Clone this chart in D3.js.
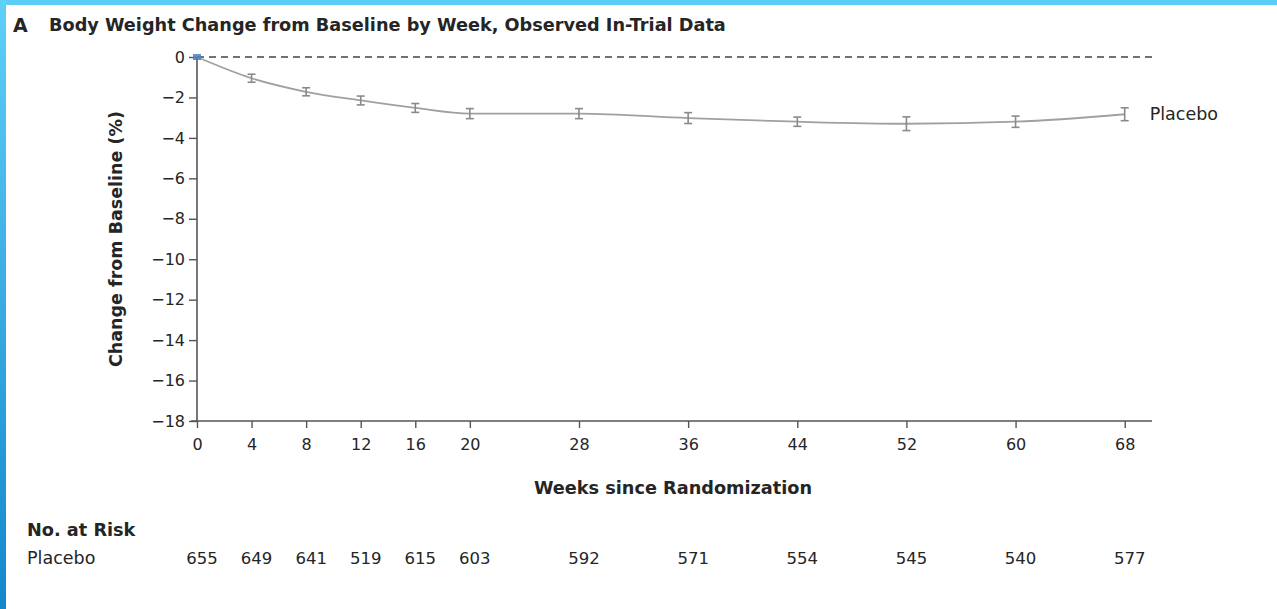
<!DOCTYPE html>
<html>
<head>
<meta charset="utf-8">
<script src="https://cdn.jsdelivr.net/npm/d3@7/dist/d3.min.js"></script>
<style>
  html, body { margin: 0; padding: 0; background: #fff; }
  svg { display: block; }
  text { font-family: "DejaVu Sans", sans-serif; fill: #252525; }
</style>
</head>
<body>
<svg id="chart" width="1277" height="609"></svg>
<script>
// Observed in-trial body weight change, placebo arm
const weeks = [0, 4, 8, 12, 16, 20, 28, 36, 44, 52, 60, 68];
const placeboChange = [0, -1.05, -1.72, -2.15, -2.52, -2.8, -2.8, -3.02, -3.2, -3.3, -3.2, -2.83];
const placeboErr = [0.05, 0.1, 0.1, 0.12, 0.12, 0.15, 0.15, 0.17, 0.13, 0.24, 0.18, 0.22];
const atRisk = [655, 649, 641, 519, 615, 603, 592, 571, 554, 545, 540, 577];
const yTicks = [0, -2, -4, -6, -8, -10, -12, -14, -16, -18];
const xTicks = weeks;

const svg = d3.select("#chart");
const W = 1277, H = 609;

// page frame: blue bands along the top and left edges
const defs = svg.append("defs");
const grad = defs.append("linearGradient").attr("id", "leftBand")
  .attr("x1", 0).attr("y1", 0).attr("x2", 0).attr("y2", 1);
grad.append("stop").attr("offset", "0%").attr("stop-color", "#5fd0f8");
grad.append("stop").attr("offset", "100%").attr("stop-color", "#1486cc");
svg.append("rect").attr("x", 0).attr("y", 0).attr("width", W).attr("height", 5).attr("fill", "#5ccdf6");
svg.append("rect").attr("x", 0).attr("y", 0).attr("width", 6).attr("height", H).attr("fill", "url(#leftBand)");

const x = d3.scaleLinear().domain([0, 70]).range([197, 1152]);
const y = d3.scaleLinear().domain([-18, 0]).range([421, 57]);

// title
svg.append("text").attr("x", 13).attr("y", 32)
  .style("font-size", "19px").style("font-weight", 700).text("A");
svg.append("text").attr("x", 49).attr("y", 31)
  .style("font-size", "17.7px").style("font-weight", 700)
  .text("Body Weight Change from Baseline by Week, Observed In-Trial Data");

// axes
const axisColor = "#555";
const yAxis = svg.append("g").attr("transform", `translate(${x(0)},0)`)
  .call(d3.axisLeft(y).tickValues(yTicks).tickSize(8).tickPadding(4)
    .tickFormat(d => d === 0 ? "0" : "\u2212" + Math.abs(d)));
const xAxis = svg.append("g").attr("transform", `translate(0,${y(-18)})`)
  .call(d3.axisBottom(x).tickValues(xTicks).tickSize(7).tickPadding(11)
    .tickFormat(d3.format("d")));
[yAxis, xAxis].forEach(g => {
  g.select(".domain").attr("stroke", axisColor).attr("stroke-width", 1.6);
  g.selectAll(".tick line").attr("stroke", axisColor).attr("stroke-width", 1.4);
  g.selectAll(".tick text").style("font-size", "16px")
    .style("font-family", "\"DejaVu Sans\", sans-serif").attr("fill", "#383838");
});
// extend the x axis line to the left of the y axis
xAxis.select(".domain").attr("d", `M${x(0) - 6},0H${x(70)}`);
yAxis.select(".domain").attr("d", `M0,${y(0)}V${y(-18)}`);

// zero reference line
svg.append("line")
  .attr("x1", x(0)).attr("x2", x(70)).attr("y1", y(0)).attr("y2", y(0))
  .attr("stroke", "#444").attr("stroke-width", 1.5).attr("stroke-dasharray", "7,5");

// axis titles
svg.append("text")
  .attr("transform", `translate(122,${(y(0) + y(-18)) / 2}) rotate(-90)`)
  .attr("text-anchor", "middle")
  .style("font-size", "17.5px").style("font-weight", 700)
  .text("Change from Baseline (%)");
svg.append("text").attr("x", 673).attr("y", 494).attr("text-anchor", "middle")
  .style("font-size", "17.7px").style("font-weight", 700)
  .text("Weeks since Randomization");

// placebo series
const pts = weeks.map((w, i) => ({ w, v: placeboChange[i], e: placeboErr[i] }));
const lineGen = d3.line().x(d => x(d.w)).y(d => y(d.v)).curve(d3.curveMonotoneX);
svg.append("path").datum(pts).attr("d", lineGen)
  .attr("fill", "none").attr("stroke", "#a0a0a0").attr("stroke-width", 1.8);

const bars = svg.append("g").selectAll("g").data(pts.slice(1)).join("g")
  .attr("stroke", "#8a8a8a").attr("stroke-width", 1.6);
bars.append("line")
  .attr("x1", d => x(d.w)).attr("x2", d => x(d.w))
  .attr("y1", d => y(d.v + d.e) - 2).attr("y2", d => y(d.v - d.e) + 2);
bars.append("line")
  .attr("x1", d => x(d.w) - 4).attr("x2", d => x(d.w) + 4)
  .attr("y1", d => y(d.v + d.e) - 2).attr("y2", d => y(d.v + d.e) - 2);
bars.append("line")
  .attr("x1", d => x(d.w) - 4).attr("x2", d => x(d.w) + 4)
  .attr("y1", d => y(d.v - d.e) + 2).attr("y2", d => y(d.v - d.e) + 2);

// baseline point
svg.append("rect")
  .attr("x", x(0) - 4).attr("y", y(0) - 3).attr("width", 8).attr("height", 6)
  .attr("fill", "#4f7fbf").attr("opacity", 0.85);

// series label
svg.append("text").attr("x", x(68) + 25).attr("y", y(-2.83) + 6)
  .style("font-size", "17.5px").text("Placebo");

// number at risk
svg.append("text").attr("x", 27).attr("y", 536)
  .style("font-size", "17.7px").style("font-weight", 700).text("No. at Risk");
svg.append("text").attr("x", 27).attr("y", 564)
  .style("font-size", "17.5px").text("Placebo");
svg.append("g").selectAll("text").data(weeks).join("text")
  .attr("x", d => x(d) + 5).attr("y", 564).attr("text-anchor", "middle")
  .style("font-size", "16.5px").attr("fill", "#333")
  .text((d, i) => atRisk[i]);
</script>
</body>
</html>
